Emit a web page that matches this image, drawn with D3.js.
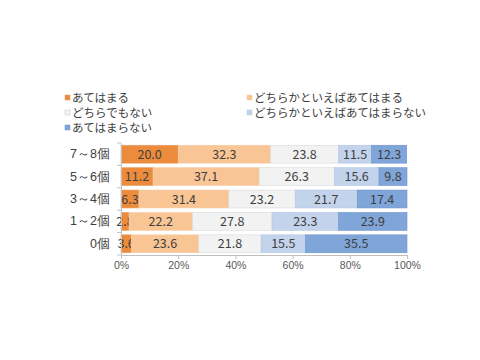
<!DOCTYPE html>
<html><head><meta charset="utf-8">
<script src="https://cdn.jsdelivr.net/npm/d3@7"></script>
<style>body{margin:0;background:#fff;}svg{display:block;font-family:"Noto Sans CJK JP",sans-serif;}</style>
</head><body>
<svg id="c" width="480" height="360"></svg>
<script>
const categories = ["7～8個","5～6個","3～4個","1～2個","0個"];
const seriesNames = ["あてはまる","どちらかといえばあてはまる","どちらでもない","どちらかといえばあてはまらない","あてはまらない"];
const s1 = [20.0, 11.2, 6.3, 2.8, 3.6];
const s2 = [32.3, 37.1, 31.4, 22.2, 23.6];
const s3 = [23.8, 26.3, 23.2, 27.8, 21.8];
const s4 = [11.5, 15.6, 21.7, 23.3, 15.5];
const s5 = [12.3, 9.8, 17.4, 23.9, 35.5];
const xTicks = [0, 20, 40, 60, 80, 100];
const colors = ["#ED8B3C","#F9C594","#F2F2F2","#C3D3EB","#7FA5D9"];
const strokes = ["#E2A06A","#F3CFAE","#DADADA","#B3C6E4","#6E95CC"];

const series = [s1,s2,s3,s4,s5];
const svg = d3.select("#c");
const x = d3.scaleLinear().domain([0,100]).range([121,407]);
const y = d3.scaleBand().domain(categories).range([143,255]).paddingInner(0.2).paddingOuter(0.1);

// bars
categories.forEach((c,i)=>{
  let acc = 0;
  series.forEach((s,k)=>{
    const v = s[i];
    svg.append("rect")
      .attr("x", x(acc)).attr("y", y(c))
      .attr("width", x(acc+v)-x(acc)).attr("height", y.bandwidth())
      .attr("fill", colors[k]).attr("stroke", strokes[k]).attr("stroke-width",0.6);
    svg.append("text")
      .attr("x", x(acc+v/2)).attr("y", y(c)+y.bandwidth()/2)
      .attr("dy","0.36em").attr("text-anchor","middle")
      .attr("font-size",12.5).attr("fill","#404040")
      .text(v.toFixed(1));
    acc += v;
  });
});

// x axis
const xa = svg.append("g").attr("transform","translate(0,255)")
  .call(d3.axisBottom(x).tickValues(xTicks).tickFormat(d=>d+"%").tickSize(4));
xa.select(".domain").attr("stroke","#BFBFBF");
xa.selectAll(".tick line").attr("stroke","#BFBFBF");
xa.selectAll("text").attr("font-size",10.5).attr("fill","#595959");

// y axis
const ya = svg.append("g").attr("transform","translate(121,0)")
  .call(d3.axisLeft(y).tickSize(0).tickPadding(11));
ya.select(".domain").attr("stroke","#BFBFBF");
ya.selectAll("text").attr("font-size",12.5).attr("fill","#404040");
// category separator ticks
const edges = categories.map(c=>y(c)-y.step()*y.paddingInner()/2).concat([255]);
svg.selectAll(".sep").data(edges).enter().append("line")
  .attr("x1",117).attr("x2",121).attr("y1",d=>d).attr("y2",d=>d)
  .attr("stroke","#BFBFBF");

// legend
const legPos = [[65,98],[247,98],[65,113],[247,113],[65,128]];
seriesNames.forEach((n,k)=>{
  const [lx,ly] = legPos[k];
  svg.append("rect").attr("x",lx).attr("y",ly-3).attr("width",5).attr("height",5)
    .attr("fill",colors[k]).attr("stroke",k==2?"#C8C8C8":strokes[k]).attr("stroke-width",0.5);
  svg.append("text").attr("x",lx+7).attr("y",ly).attr("dy","0.36em")
    .attr("font-size",11.5).attr("fill","#404040").text(n);
});
</script>
</body></html>
